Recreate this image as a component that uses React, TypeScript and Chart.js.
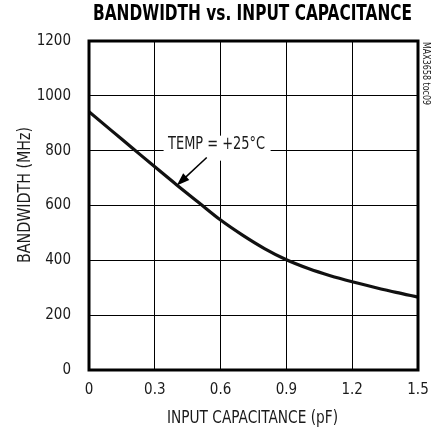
import React, { useEffect, useRef } from "react";
import { Chart, registerables } from "chart.js";

Chart.register(...registerables);

const CAPACITANCE = [0, 0.1, 0.2, 0.3, 0.4, 0.5, 0.6, 0.7, 0.8, 0.9, 1.0, 1.1, 1.2, 1.3, 1.4, 1.5];
const BANDWIDTH = [942, 875, 808, 741, 675, 611, 547, 492, 443, 402, 370, 344, 322, 302, 283, 266];
const X_TICKS = [0, 0.3, 0.6, 0.9, 1.2, 1.5];
const Y_TICKS = [0, 200, 400, 600, 800, 1000, 1200];

const TITLE = "BANDWIDTH vs. INPUT CAPACITANCE";
const X_TITLE = "INPUT CAPACITANCE (pF)";
const Y_TITLE = "BANDWIDTH (MHz)";
const ANNOTATION = "TEMP = +25°C";
const SIDE_NOTE = "MAX3658 toc09";

const NARROW = "'Liberation Sans Narrow', 'DejaVu Sans Condensed', sans-serif";

function fitText(
  ctx: CanvasRenderingContext2D,
  text: string,
  x: number,
  y: number,
  font: string,
  width: number,
  rotation = 0,
  color = "#1a1a1a"
) {
  ctx.save();
  ctx.font = font;
  ctx.textAlign = "center";
  ctx.textBaseline = "middle";
  ctx.fillStyle = color;
  const w = ctx.measureText(text).width;
  ctx.translate(x, y);
  ctx.rotate(rotation);
  ctx.scale(width / w, 1);
  ctx.fillText(text, 0, 0);
  ctx.restore();
}

const decorations = {
  id: "decorations",
  afterDraw(chart: any) {
    const { ctx, chartArea } = chart;
    const { left, top, right, bottom } = chartArea;
    const xs = chart.scales.x;
    const ys = chart.scales.y;

    // frame
    ctx.save();
    ctx.strokeStyle = "#000";
    ctx.lineWidth = 3;
    ctx.strokeRect(left, top, right - left, bottom - top);
    ctx.restore();

    // title
    fitText(ctx, TITLE, 252.5, 14.5, `bold 21px ${NARROW}`, 319, 0, "#000");
    // axis titles
    fitText(ctx, X_TITLE, (left + right) / 2 - 1, 418.5, `17px ${NARROW}`, 171);
    fitText(ctx, Y_TITLE, 26, 195, `17px ${NARROW}`, 136, -Math.PI / 2);
    // side note
    fitText(ctx, SIDE_NOTE, 425.5, 73.5, `10px ${NARROW}`, 63, Math.PI / 2);

    // annotation box with label
    const ax = xs.getPixelForValue(0.6);
    const ay = ys.getPixelForValue(800);
    ctx.save();
    ctx.fillStyle = "#fff";
    ctx.fillRect(ax - 57, ay - 15, 107, 25);
    ctx.restore();
    fitText(ctx, ANNOTATION, ax - 4, ay - 6.5, `17px ${NARROW}`, 97);

    // arrow to curve
    const tipX = xs.getPixelForValue(0.4);
    const tipY = ys.getPixelForValue(673);
    const startX = tipX + 30;
    const startY = tipY - 28;
    const ang = Math.atan2(tipY - startY, tipX - startX);
    const headLen = 13;
    const headW = 4.5;
    ctx.save();
    ctx.strokeStyle = "#000";
    ctx.fillStyle = "#000";
    ctx.lineWidth = 1.5;
    ctx.beginPath();
    ctx.moveTo(startX, startY);
    ctx.lineTo(tipX - Math.cos(ang) * headLen * 0.8, tipY - Math.sin(ang) * headLen * 0.8);
    ctx.stroke();
    const bx = tipX - Math.cos(ang) * headLen;
    const by = tipY - Math.sin(ang) * headLen;
    ctx.beginPath();
    ctx.moveTo(tipX, tipY);
    ctx.lineTo(bx - Math.sin(ang) * headW, by + Math.cos(ang) * headW);
    ctx.lineTo(bx + Math.sin(ang) * headW, by - Math.cos(ang) * headW);
    ctx.closePath();
    ctx.fill();
    ctx.restore();
  },
};

export default function App() {
  const canvasRef = useRef<HTMLCanvasElement | null>(null);

  useEffect(() => {
    if (!canvasRef.current) return;
    const chart = new Chart(canvasRef.current, {
      type: "line",
      data: {
        datasets: [
          {
            data: CAPACITANCE.map((c, i) => ({ x: c, y: BANDWIDTH[i] })),
            borderColor: "#111",
            borderWidth: 3.2,
            pointRadius: 0,
            cubicInterpolationMode: "monotone",
            fill: false,
          },
        ],
      },
      options: {
        responsive: false,
        animation: false,
        layout: { padding: { top: 41, right: 21, left: 0, bottom: 0 } },
        plugins: {
          legend: { display: false },
          title: { display: false },
          tooltip: { enabled: false },
        },
        scales: {
          x: {
            type: "linear",
            min: 0,
            max: 1.5,
            afterBuildTicks: (scale: any) => {
              scale.ticks = X_TICKS.map((v) => ({ value: v }));
            },
            afterFit: (scale: any) => {
              scale.height = 67;
              scale.paddingLeft = 0;
              scale.paddingRight = 0;
            },
            ticks: {
              padding: 11,
              color: "#1a1a1a",
              font: { family: NARROW, size: 15 },
              maxRotation: 0,
              callback: (v: any) => (Number(v) === 0 ? "0" : Number(v).toFixed(1)),
            },
            grid: { color: "#000", lineWidth: 1, drawTicks: false },
            border: { display: false },
          },
          y: {
            type: "linear",
            min: 0,
            max: 1200,
            afterBuildTicks: (scale: any) => {
              scale.ticks = Y_TICKS.map((v) => ({ value: v }));
            },
            afterFit: (scale: any) => {
              scale.width = 89;
            },
            ticks: {
              padding: 18,
              color: "#1a1a1a",
              font: { family: NARROW, size: 15 },
              callback: (v: any) => String(v),
            },
            grid: { color: "#000", lineWidth: 1, drawTicks: false },
            border: { display: false },
          },
        },
      },
      plugins: [decorations],
    } as any);
    return () => chart.destroy();
  }, []);

  return (
    <div style={{ position: "fixed", left: 0, top: 0, width: 439, height: 437, background: "#fff" }}>
      <canvas ref={canvasRef} width={439} height={437} style={{ display: "block" }} />
    </div>
  );
}
